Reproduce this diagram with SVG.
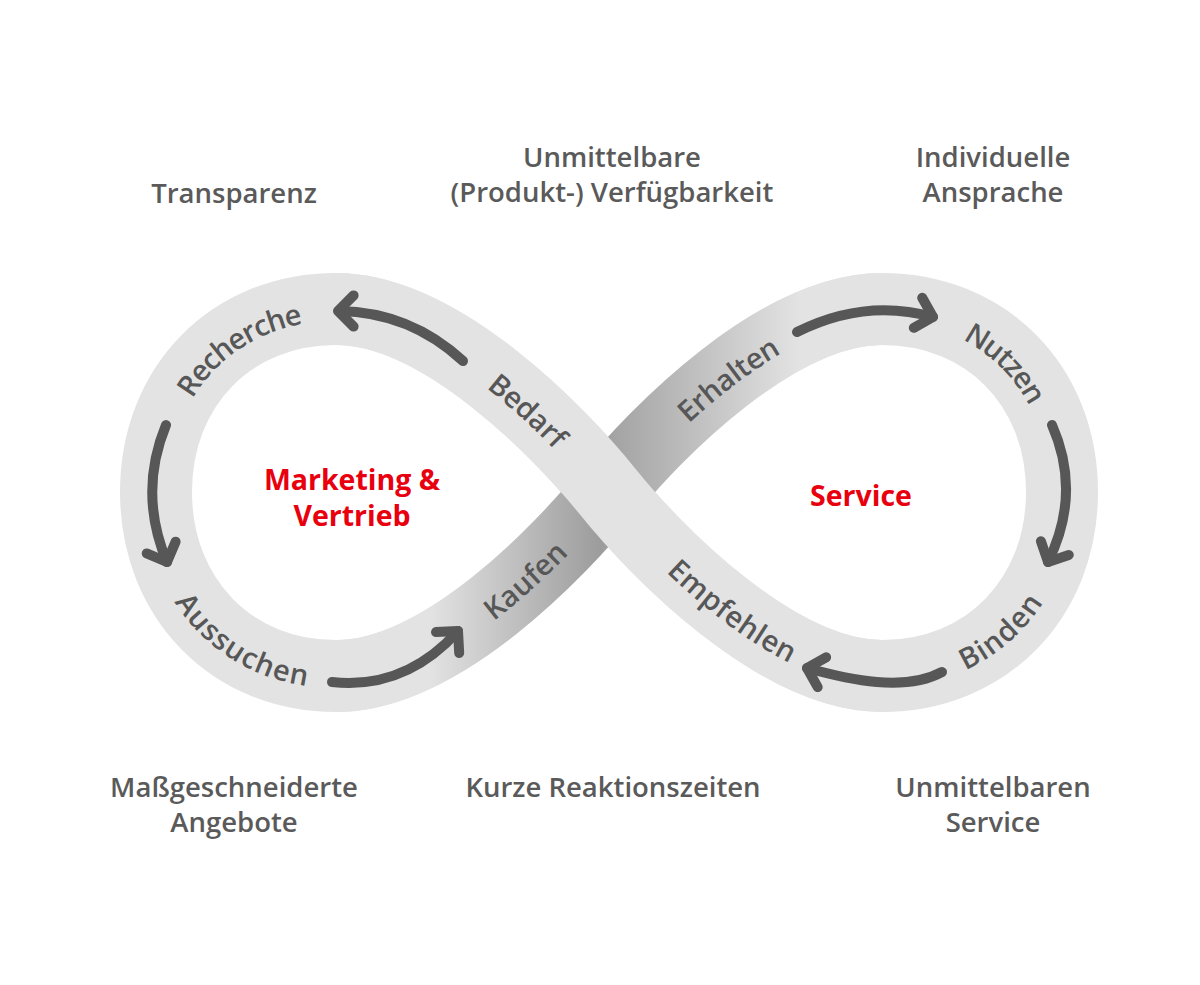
<svg xmlns="http://www.w3.org/2000/svg" xmlns:xlink="http://www.w3.org/1999/xlink" width="1200" height="985" viewBox="0 0 1200 985">
<style>
.band{fill:none;stroke:#e3e3e3;stroke-width:72}
.arrow{fill:none;stroke:#575757;stroke-width:10;stroke-linecap:round;stroke-linejoin:round}
.lbl{font-family:"Open Sans","Noto Sans","Liberation Sans",sans-serif;font-weight:600;font-size:29px;fill:#575757}
.top{font-family:"Open Sans","Noto Sans","Liberation Sans",sans-serif;font-weight:600;font-size:27.5px;fill:#5a5a5a;text-anchor:middle}
.red{font-family:"Open Sans","Noto Sans","Liberation Sans",sans-serif;font-weight:700;font-size:28.5px;fill:#e8000f;text-anchor:middle}
</style>
<defs>
<linearGradient id="shade" gradientUnits="userSpaceOnUse" x1="336" y1="0" x2="882" y2="0">
<stop offset="0" stop-color="#e3e3e3"/>
<stop offset="0.17" stop-color="#e3e3e3"/>
<stop offset="0.485" stop-color="#9c9c9c"/>
<stop offset="0.51" stop-color="#a4a4a4"/>
<stop offset="0.85" stop-color="#e3e3e3"/>
<stop offset="1" stop-color="#e3e3e3"/>
</linearGradient>
<path id="pRech" d="M156,492 C156,385.9 231.6,309 336,309"/>
<path id="pAuss" d="M156,492 C156,598.1 231.6,676 336,676"/>
<path id="pNutz" d="M882,309 C986.4,309 1062,385.9 1062,492"/>
<path id="pBind" d="M882,676 C986.4,676 1062,598.1 1062,492"/>
<path id="pBed" d="M336,309 C441,309 561,433.5 608,492"/>
<path id="pKauf" d="M336,676 C441,676 561,550.5 608,492"/>
<path id="pErh" d="M608,492 C655,433.5 777,309 882,309"/>
<path id="pEmpf" d="M608,492 C655,550.5 777,676 882,676"/>
</defs>
<rect width="1200" height="985" fill="#ffffff"/>
<g id="infinity-band">
<path class="band" d="M608,492 C655,433.5 777,309 882,309 C986.4,309 1062,385.9 1062,492 C1062,598.1 986.4,676 882,676 C777,676 655,550.5 608,492 C561,433.5 441,309 336,309 C231.6,309 156,385.9 156,492 C156,598.1 231.6,676 336,676 C441,676 561,550.5 608,492 Z"/>
<path d="M336,676 C441,676 561,550.5 608,492 C655,433.5 777,309 882,309" fill="none" stroke="url(#shade)" stroke-width="72"/>
<path class="band" d="M882,676 C777,676 655,550.5 608,492 C561,433.5 441,309 336,309"/>
</g>
<g id="connectors">
<path class="arrow" d="M463,361 Q410,312 339,311"/>
<path class="arrow" d="M353.6,295.4 L338,311 L353.6,326.6"/>
<path class="arrow" d="M166,425 Q138,493 167,562"/>
<path class="arrow" d="M175.6,541.7 L167,562 L146.7,553.4"/>
<path class="arrow" d="M332,682 Q405,690 458,631"/>
<path class="arrow" d="M436,632 L458,631 L459.2,653"/>
<path class="arrow" d="M797,332 Q865,298 933,317"/>
<path class="arrow" d="M922.2,297.8 L933,317 L913.8,327.8"/>
<path class="arrow" d="M1052,425 Q1082,493 1048,562"/>
<path class="arrow" d="M1068.8,554.9 L1048,562 L1040.9,541.2"/>
<path class="arrow" d="M942,672 C905,692 850,680 807,668"/>
<path class="arrow" d="M817.7,687.1 L807,668 L826.1,657.3"/>
</g>
<g id="step-recherche"><text class="lbl" dominant-baseline="central"><textPath xlink:href="#pRech" href="#pRech" startOffset="62%" text-anchor="middle">Recherche</textPath></text></g>
<g id="step-aussuchen"><text class="lbl" dominant-baseline="central"><textPath xlink:href="#pAuss" href="#pAuss" startOffset="64%" text-anchor="middle">Aussuchen</textPath></text></g>
<g id="step-kaufen"><text class="lbl" dominant-baseline="central"><textPath xlink:href="#pKauf" href="#pKauf" startOffset="64%" text-anchor="middle">Kaufen</textPath></text></g>
<g id="step-bedarf"><text class="lbl" dominant-baseline="central"><textPath xlink:href="#pBed" href="#pBed" startOffset="66%" text-anchor="middle">Bedarf</textPath></text></g>
<g id="step-erhalten"><text class="lbl" dominant-baseline="central"><textPath xlink:href="#pErh" href="#pErh" startOffset="49%" text-anchor="middle">Erhalten</textPath></text></g>
<g id="step-nutzen"><text class="lbl" dominant-baseline="central"><textPath xlink:href="#pNutz" href="#pNutz" startOffset="49%" text-anchor="middle">Nutzen</textPath></text></g>
<g id="step-binden"><text class="lbl" dominant-baseline="central"><textPath xlink:href="#pBind" href="#pBind" startOffset="45%" text-anchor="middle">Binden</textPath></text></g>
<g id="step-empfehlen"><text class="lbl" dominant-baseline="central"><textPath xlink:href="#pEmpf" href="#pEmpf" startOffset="51%" text-anchor="middle">Empfehlen</textPath></text></g>
<g id="loop-marketing"><text class="red" x="352" y="490">Marketing &amp;</text><text class="red" x="352" y="526">Vertrieb</text></g>
<g id="loop-service"><text class="red" x="861" y="506">Service</text></g>
<g id="benefit-transparenz"><text class="top" x="234" y="203">Transparenz</text></g>
<g id="benefit-verfuegbarkeit"><text class="top" x="612" y="167">Unmittelbare</text><text class="top" x="612" y="202">(Produkt-) Verfügbarkeit</text></g>
<g id="benefit-ansprache"><text class="top" x="993" y="167">Individuelle</text><text class="top" x="993" y="202">Ansprache</text></g>
<g id="benefit-angebote"><text class="top" x="234" y="797">Maßgeschneiderte</text><text class="top" x="234" y="832">Angebote</text></g>
<g id="benefit-reaktion"><text class="top" x="613" y="797">Kurze Reaktionszeiten</text></g>
<g id="benefit-service"><text class="top" x="993" y="797">Unmittelbaren</text><text class="top" x="993" y="832">Service</text></g>
</svg>
